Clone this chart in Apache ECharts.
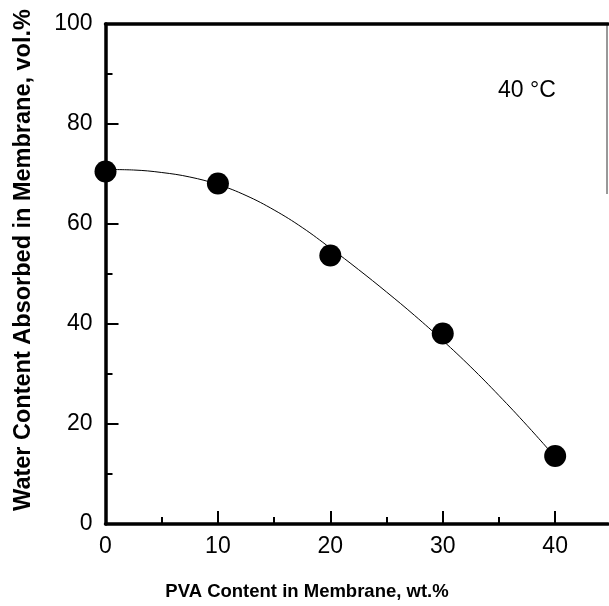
<!DOCTYPE html>
<html>
<head>
<meta charset="utf-8">
<script src="https://cdn.jsdelivr.net/npm/echarts@6/dist/echarts.min.js"></script>
<style>
  html, body { margin: 0; padding: 0; background: #fff; }
  #chart { width: 609px; height: 606px; }
</style>
</head>
<body>
<div id="chart"></div>
<script>
// Measured water uptake of the membranes at 40 °C
const PVA_CONTENT = [0, 10, 20, 30, 40];               // wt.%
const WATER_CONTENT = [70.5, 68.1, 53.7, 38.1, 13.6];  // vol.%

// Smooth trend line drawn through the measurements
const FIT_PVA = [0, 2.5, 5, 7.5, 10, 12.5, 15, 17.5, 20, 22.5, 25, 27.5, 30, 32.5, 35, 37.5, 40];
const FIT_WATER = [70.9, 70.8, 70.3, 69.4, 67.9, 65.7, 62.8, 59.3, 55.2, 50.9, 46.4, 41.7, 36.7, 31.4, 25.7, 19.7, 13.4];

// Axis ranges and tick positions
const X_MAX = 44.7;
const X_MAJOR = [0, 10, 20, 30, 40];
const X_MINOR = [5, 15, 25, 35];
const Y_MIN = 0, Y_MAX = 100, Y_STEP = 20;
const Y_MAJOR = [0, 20, 40, 60, 80, 100];
const Y_MINOR = [10, 30, 50, 70, 90];
const RIGHT_EDGE_SPAN = [100, 66];

const FONT = 'Liberation Sans, Arial, Helvetica, sans-serif';
const INK = '#000';

const chart = echarts.init(document.getElementById('chart'), null, { renderer: 'canvas' });

// An axis that only draws tick marks pointing into the plot
function tickAxis(base, values, length) {
  return Object.assign({}, base, {
    axisLine: { show: false, onZero: false },
    axisTick: { show: true, inside: true, length: length, customValues: values, lineStyle: { color: INK, width: 2 } },
    axisLabel: { show: false },
    splitLine: { show: false }
  });
}

const baseX = { type: 'value', min: 0, max: X_MAX, interval: 10, gridIndex: 0, position: 'bottom' };
const baseY = { type: 'value', min: Y_MIN, max: Y_MAX, interval: Y_STEP, gridIndex: 0, position: 'left' };

chart.setOption({
  animation: false,
  backgroundColor: '#fff',
  grid: { left: 105.5, right: 1, top: 24, bottom: 82, containLabel: false, outerBoundsMode: 'none' },
  xAxis: [
    Object.assign({}, baseX, {
      splitLine: { show: false },
      axisLine: { show: true, onZero: false, lineStyle: { color: INK, width: 3.5 } },
      axisTick: { show: false },
      axisLabel: { show: true, customValues: X_MAJOR, margin: 11, color: INK, fontSize: 23, fontFamily: FONT }
    }),
    tickAxis(baseX, X_MAJOR, 13),
    tickAxis(baseX, X_MINOR, 7),
    Object.assign({}, baseX, {
      position: 'top',
      splitLine: { show: false },
      axisLine: { show: true, onZero: false, lineStyle: { color: INK, width: 3.5 } },
      axisTick: { show: false },
      axisLabel: { show: false }
    })
  ],
  yAxis: [
    Object.assign({}, baseY, {
      splitLine: { show: false },
      axisLine: { show: true, onZero: false, lineStyle: { color: INK, width: 3.5 } },
      axisTick: { show: false },
      axisLabel: { margin: 13, color: INK, fontSize: 23, fontFamily: FONT }
    }),
    tickAxis(baseY, Y_MAJOR, 13),
    tickAxis(baseY, Y_MINOR, 7)
  ],
  series: [
    {
      name: 'trend',
      type: 'line',
      xAxisIndex: 0, yAxisIndex: 0,
      data: FIT_PVA.map((x, i) => [x, FIT_WATER[i]]),
      smooth: 0.4,
      showSymbol: false,
      lineStyle: { color: INK, width: 1 },
      z: 2
    },
    {
      name: 'water content',
      type: 'scatter',
      xAxisIndex: 0, yAxisIndex: 0,
      data: PVA_CONTENT.map((x, i) => [x, WATER_CONTENT[i]]),
      symbol: 'circle',
      symbolSize: 22,
      itemStyle: { color: INK, opacity: 1 },
      z: 3
    }
  ]
});

// Axis titles, temperature note and the right frame edge
const edgeTop = chart.convertToPixel({ gridIndex: 0 }, [X_MAX, RIGHT_EDGE_SPAN[0]]);
const edgeBottom = chart.convertToPixel({ gridIndex: 0 }, [X_MAX, RIGHT_EDGE_SPAN[1]]);

chart.setOption({
  graphic: [
    {
      type: 'text', x: 307, y: 592,
      style: {
        text: 'PVA Content in Membrane, wt.%',
        font: 'bold 18.5px ' + FONT, fill: INK,
        align: 'center', verticalAlign: 'middle'
      }
    },
    {
      type: 'text', x: 24, y: 260, rotation: Math.PI / 2,
      style: {
        text: 'Water Content Absorbed in Membrane, vol.%',
        font: 'bold 23.5px ' + FONT, fill: INK,
        align: 'center', verticalAlign: 'middle'
      }
    },
    {
      type: 'text', x: 498, y: 91,
      style: {
        text: '40 °C',
        font: '23px ' + FONT, fill: INK,
        align: 'left', verticalAlign: 'middle'
      }
    },
    {
      type: 'line',
      shape: { x1: edgeTop[0] - 1, y1: edgeTop[1], x2: edgeBottom[0] - 1, y2: edgeBottom[1] },
      style: { stroke: '#333', lineWidth: 1 }
    }
  ]
});
</script>
</body>
</html>
